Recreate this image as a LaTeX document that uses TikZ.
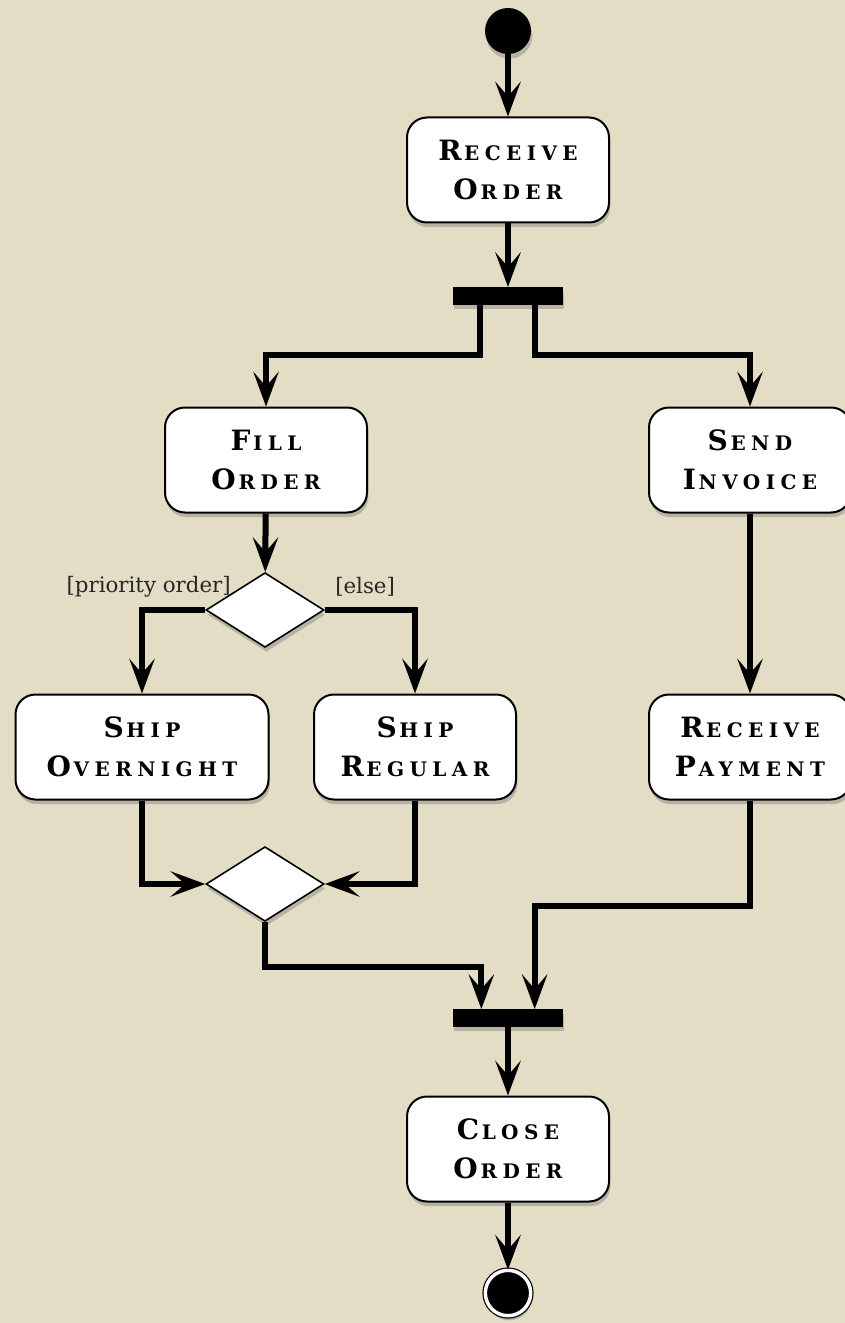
\documentclass[tikz,border=0pt]{standalone}
\usepackage{fontspec}
\setmainfont{DejaVu Serif}
\newfontfamily\boxfont[LetterSpace=27]{DejaVu Serif}
\usetikzlibrary{arrows.meta,shapes.geometric,shadows,calc}

\definecolor{paper}{RGB}{228,221,197}
% first letter large, rest as small capitals
\newcommand{\capword}[2]{{\fontsize{21}{29.25}\selectfont #1}\kern2pt#2}

\tikzset{
  activity/.style={draw=black, line width=1.5pt, fill=white, rounded corners=15pt,
    minimum width=151.5pt, minimum height=78.75pt, inner sep=0pt, align=center,
    font=\boxfont\bfseries\fontsize{15}{29.25}\selectfont,
    drop shadow={shadow xshift=1pt, shadow yshift=-3.5pt, opacity=0.45}},
  decision/.style={diamond, draw=black, line width=1.2pt, fill=white, inner sep=0pt,
    minimum width=88.5pt, minimum height=56pt,
    drop shadow={shadow xshift=1pt, shadow yshift=-3.5pt, opacity=0.45}},
  syncbar/.style={rectangle, fill=black, inner sep=0pt, minimum width=82.5pt, minimum height=13pt,
    drop shadow={shadow xshift=1pt, shadow yshift=-3.5pt, opacity=0.45}},
  initial/.style={circle, fill=black, inner sep=0pt, minimum size=34.5pt,
    drop shadow={shadow xshift=1pt, shadow yshift=-3.5pt, opacity=0.45}},
  final/.style={circle, fill=black, draw=black, line width=0.9pt, double=white,
    double distance=2.6pt, inner sep=0pt, minimum size=34pt,
    drop shadow={shadow xshift=1pt, shadow yshift=-3.5pt, opacity=0.45}},
  guard/.style={font=\fontsize{16}{18}\selectfont, inner sep=0pt, text=black!85},
  flow/.style={line width=4.5pt, -{Stealth[length=26pt, width=19pt, inset=11pt]}}
}

\begin{document}
\begin{tikzpicture}[x=0.75pt, y=-0.75pt]
\fill[paper] (0,0) rectangle (845,1323);
\useasboundingbox (0,0) rectangle (845,1323);

% nodes
\node[initial] (start) at (508,31) {};
\node[activity] (recv) at (508,170) {\capword{R}{ECEIVE}\\\capword{O}{RDER}};
\node[syncbar] (fork) at (508,296) {};
\node[activity] (fill) at (266,460) {\capword{F}{ILL}\\\capword{O}{RDER}};
\node[activity] (send) at (750,460) {\capword{S}{END}\\\capword{I}{NVOICE}};
\node[decision] (dec) at (265,610) {};
\node[guard, anchor=east] (prio) at ([shift={(-34,-23)}]dec.center) {[priority order]};
\node[guard, anchor=west] (else) at ([shift={(70,-23)}]dec.center) {[else]};
\node[activity, minimum width=189.75pt] (overnight) at (142,747) {\capword{S}{HIP}\\\capword{O}{VERNIGHT}};
\node[activity] (regular) at (415,747) {\capword{S}{HIP}\\\capword{R}{EGULAR}};
\node[activity] (payment) at (750,747) {\capword{R}{ECEIVE}\\\capword{P}{AYMENT}};
\node[decision] (merge) at (265,884) {};
\node[syncbar] (join) at (508,1018) {};
\node[activity] (close) at (508,1149) {\capword{C}{LOSE}\\\capword{O}{RDER}};
\node[final] (end) at (508,1293) {};

% connectors
\draw[flow] (start) -- (recv);
\draw[flow] (recv) -- (fork);
\draw[flow] ([xshift=-21pt]fork.south) -- ++(0,50) -| (fill.north);
\draw[flow] ([xshift=20pt]fork.south) -- ++(0,50) -| (send.north);
\draw[flow] (fill) -- (dec);
\draw[flow] (dec.west) -| (overnight.north);
\draw[flow] (dec.east) -| (regular.north);
\draw[flow] (overnight.south) |- (merge.west);
\draw[flow] (regular.south) |- (merge.east);
\draw[flow] (send) -- (payment);
\draw[flow] (merge.south) -- ++(0,45) -| ([xshift=-20pt]join.north);
\draw[flow] (payment.south) -- ++(0,105) -| ([xshift=20pt]join.north);
\draw[flow] (join) -- (close);
\draw[flow] (close) -- (end);
\end{tikzpicture}
\end{document}
